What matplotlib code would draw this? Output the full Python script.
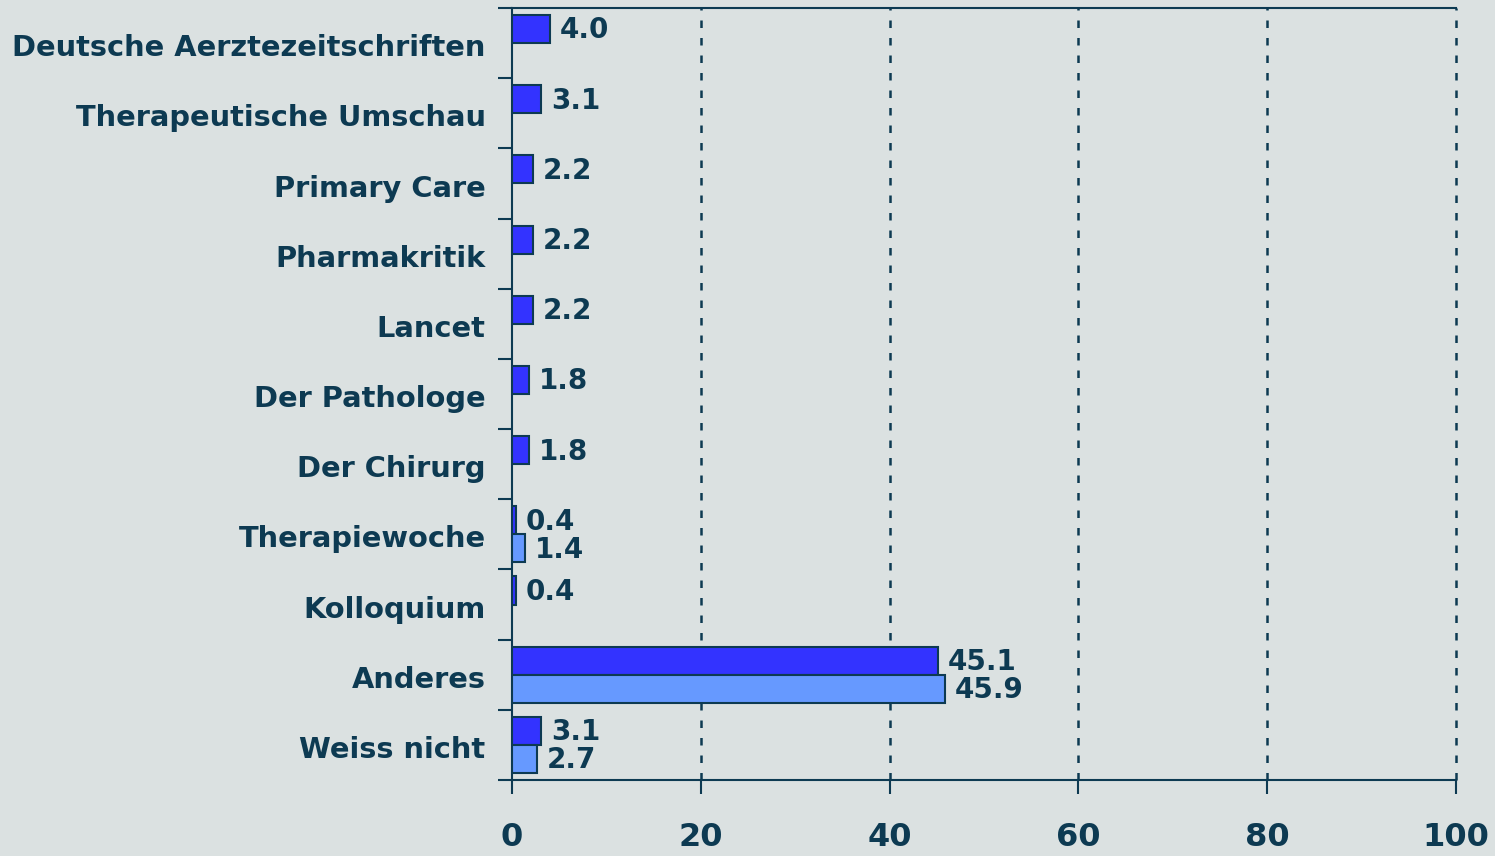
import numpy as np
import matplotlib
matplotlib.use('Agg')
from matplotlib import pyplot as plt

categories = ['Deutsche Aerztezeitschriften', 'Therapeutische Umschau', 'Primary Care',
              'Pharmakritik', 'Lancet', 'Der Pathologe', 'Der Chirurg',
              'Therapiewoche', 'Kolloquium', 'Anderes', 'Weiss nicht']
dark_vals = [4.0, 3.1, 2.2, 2.2, 2.2, 1.8, 1.8, 0.4, 0.4, 45.1, 3.1]
light_vals = [None, None, None, None, None, None, None, 1.4, None, 45.9, 2.7]
xticks = [0, 20, 40, 60, 80, 100]

bg = '#dbe1e1'
ink = '#0d3a52'
dark_col = '#3333ff'
light_col = '#6699ff'

plt.rcParams['font.family'] = ['DejaVu Sans']
plt.rcParams['font.weight'] = 'bold'

fig = plt.figure(figsize=(14.95, 8.56), dpi=100, facecolor=bg)
ax = fig.add_axes([512/1495, 1 - 780/856, (1456-512)/1495, (780-8)/856])
ax.set_facecolor(bg)

y = np.arange(len(categories))
h = 0.4

for i, v in enumerate(dark_vals):
    ax.barh(y[i] - h/2, v, height=h, color=dark_col, edgecolor=ink, linewidth=1.5, zorder=3)
    ax.annotate('%.1f' % v, (v, y[i] - h/2), xytext=(7, -1), textcoords='offset points',
                va='center', ha='left', fontsize=20, color=ink, fontweight='bold')
for i, v in enumerate(light_vals):
    if v is None:
        continue
    ax.barh(y[i] + h/2, v, height=h, color=light_col, edgecolor=ink, linewidth=1.5, zorder=3)
    ax.annotate('%.1f' % v, (v, y[i] + h/2), xytext=(7, -1), textcoords='offset points',
                va='center', ha='left', fontsize=20, color=ink, fontweight='bold')

ax.set_xlim(0, 100)
ax.set_ylim(len(categories) - 0.5, -0.5)

for xv in xticks[1:]:
    ax.axvline(xv, color=ink, lw=1.8, ls=(0, (3, 4)), zorder=1, clip_on=False)

ax.set_xticks(xticks)
ax.set_xticklabels([str(t) for t in xticks], fontsize=23, color=ink, fontweight='bold')
ax.set_yticks(np.arange(len(categories) + 1) - 0.5, minor=False)
ax.set_yticklabels([])
ax.set_yticks(y + 0.03, minor=True)
ax.set_yticklabels(categories, minor=True, fontsize=20.8, color=ink, fontweight='bold')
ax.tick_params(axis='y', which='minor', length=0, pad=19)
ax.tick_params(axis='y', which='major', length=10, width=1.5, color=ink)
ax.tick_params(axis='x', length=10, width=1.5, color=ink, pad=20)

for s in ['left', 'bottom', 'top']:
    ax.spines[s].set_color(ink)
    ax.spines[s].set_linewidth(1.5)
ax.spines['right'].set_visible(False)

fig.savefig('out.png', dpi=100, facecolor=bg)
